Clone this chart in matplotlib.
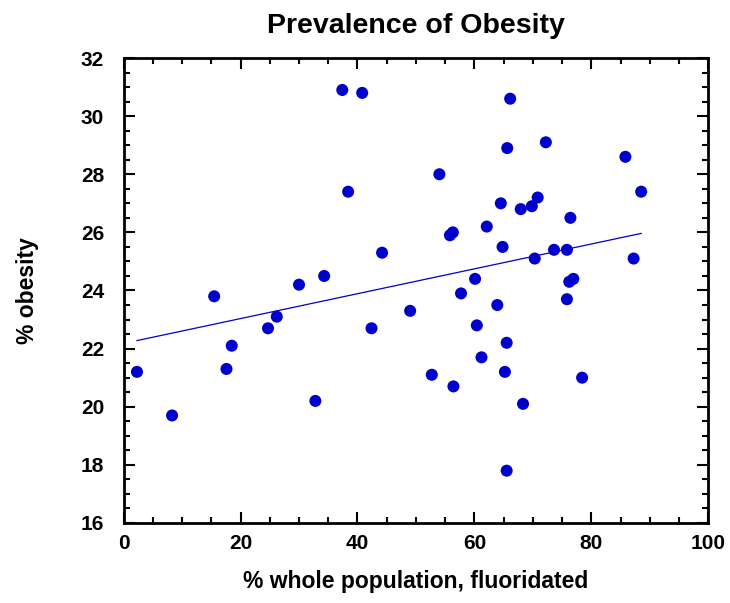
import matplotlib
matplotlib.use("Agg")
import matplotlib.pyplot as plt
from matplotlib.ticker import MultipleLocator
import numpy as np

plt.rcParams['font.family'] = ['Liberation Sans', 'DejaVu Sans']

# % whole population fluoridated vs % obesity
fluoridated = [2.3, 8.3, 15.5, 17.6, 18.5, 24.7, 26.2, 30.0, 32.8, 34.3,
               37.4, 38.4, 40.8, 42.4, 44.2, 49.0, 52.7, 54.0, 55.8, 56.3,
               56.4, 57.7, 60.1, 60.4, 61.2, 62.1, 63.9, 64.5, 64.8, 65.2,
               65.5, 65.5, 65.6, 66.1, 67.9, 68.3, 69.8, 70.3, 70.8, 72.2,
               73.6, 75.8, 75.8, 76.2, 76.4, 76.9, 78.4, 85.8, 87.2, 88.5]
obesity = [21.2, 19.7, 23.8, 21.3, 22.1, 22.7, 23.1, 24.2, 20.2, 24.5,
           30.9, 27.4, 30.8, 22.7, 25.3, 23.3, 21.1, 28.0, 25.9, 26.0,
           20.7, 23.9, 24.4, 22.8, 21.7, 26.2, 23.5, 27.0, 25.5, 21.2,
           22.2, 17.8, 28.9, 30.6, 26.8, 20.1, 26.9, 25.1, 27.2, 29.1,
           25.4, 25.4, 23.7, 24.3, 26.5, 24.4, 21.0, 28.6, 25.1, 27.4]

x = np.array(fluoridated)
y = np.array(obesity)
slope, intercept = np.polyfit(x, y, 1)
xfit = np.array([x.min(), x.max()])

blue = '#0000CC'

fig = plt.figure(figsize=(7.3, 6.03), dpi=100)
ax = fig.add_axes([0.1692, 0.1327, 0.8013, 0.7711])

ax.scatter(x, y, s=75, color=blue, edgecolors='none', zorder=3)
ax.plot(xfit, intercept + slope * xfit, color=blue, lw=0.9, zorder=2)

ax.set_xlim(0, 100)
ax.set_ylim(16, 32)
ax.xaxis.set_major_locator(MultipleLocator(20))
ax.xaxis.set_minor_locator(MultipleLocator(5))
ax.yaxis.set_major_locator(MultipleLocator(2))
ax.yaxis.set_minor_locator(MultipleLocator(0.5))
ax.tick_params(which='both', direction='in', top=True, right=True, width=1.5)
ax.tick_params(which='major', length=8, labelsize=15)
ax.tick_params(which='minor', length=4.5)
ax.tick_params(axis='x', which='major', pad=8)
ax.tick_params(axis='y', which='major', pad=14)
for lab in ax.get_xticklabels() + ax.get_yticklabels():
    lab.set_fontweight('bold')
for sp in ax.spines.values():
    sp.set_linewidth(2)

ax.set_title('Prevalence of Obesity', fontsize=20.5, fontweight='bold', pad=18)
ax.set_xlabel('% whole population, fluoridated', fontsize=16.5, fontweight='bold', labelpad=12)
ax.set_ylabel('% obesity', fontsize=16.5, fontweight='bold', labelpad=30)

fig.savefig('out.png', dpi=100)
